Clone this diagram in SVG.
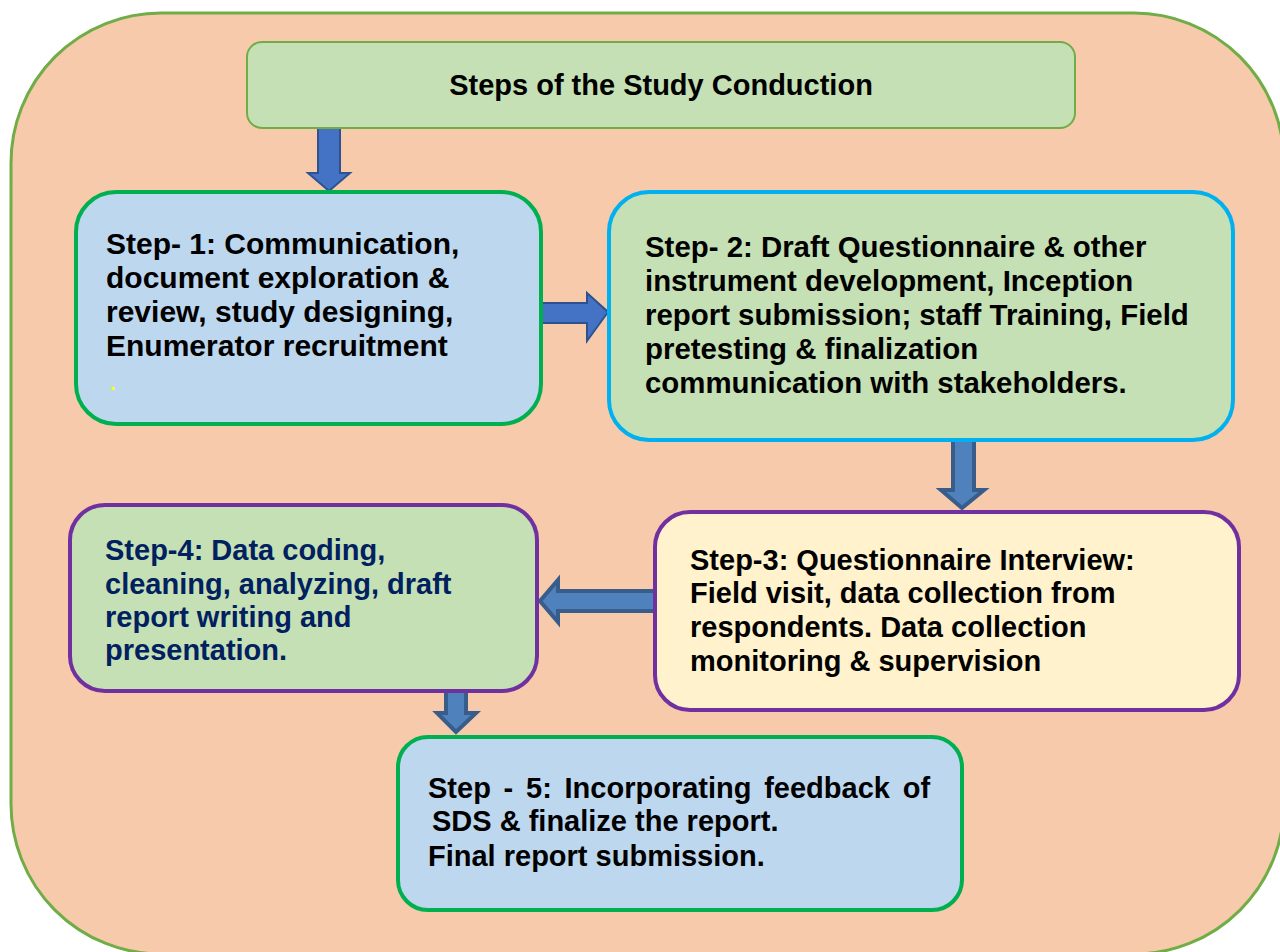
<svg xmlns="http://www.w3.org/2000/svg" width="1280" height="952" viewBox="0 0 1280 952">
  <style>
    .lbl { font-family: "Liberation Sans", Arial, sans-serif; font-weight: bold; font-size: 29px; fill: #000000; }
    .big { font-size: 30px; }
    .mid { font-size: 29.4px; }
    .navy { fill: #002060; }
    .box { stroke-width: 4; }
    .arrowA { fill: #4472C4; stroke: #2F528F; stroke-width: 2; }
    .arrowB { fill: #4F81BD; stroke: #385D8A; stroke-width: 4; }
  </style>

  <!-- background panel -->
  <g id="panel">
    <rect x="11" y="13" width="1273" height="941" rx="150" ry="150" fill="#F6CAAB" stroke="#70AD47" stroke-width="3"/>
  </g>

  <!-- connectors: block arrows -->
  <g id="connectors">
    <polygon class="arrowA" points="318,128 340,128 340,173 350,173 329,191 308,173 318,173"/>
    <polygon class="arrowA" points="541,303 587,303 587,293 608,312 587,341 587,323 541,323"/>
    <polygon class="arrowB" points="953,440 974,440 974,490 984,490 962,508 941,490 953,490"/>
    <polygon class="arrowB" points="655,591 558,591 558,580 540,601 558,622 558,611 655,611"/>
    <polygon class="arrowB" points="446,691 466,691 466,713 476,713 456,732 437,713 446,713"/>
  </g>

  <g id="title">
    <rect x="247" y="42" width="828" height="86" rx="15" ry="15" fill="#C5E0B4" stroke="#70AD47" stroke-width="2"/>
    <text class="lbl" x="661" y="95" text-anchor="middle">Steps of the Study Conduction</text>
  </g>

  <g id="step1">
    <rect class="box" x="76" y="192" width="465" height="232" rx="40" ry="40" fill="#BDD7EE" stroke="#00B050"/>
    <text class="lbl big" x="106" y="254">Step- 1: Communication,</text>
    <text class="lbl big" x="106" y="288">document exploration &amp;</text>
    <text class="lbl big" x="106" y="322">review, study designing,</text>
    <text class="lbl big" x="106" y="356">Enumerator recruitment</text>
    <text class="lbl" x="110" y="390" style="fill:#FFFF00;font-size:20px">.</text>
  </g>

  <g id="step2">
    <rect class="box" x="609" y="192" width="624" height="248" rx="40" ry="40" fill="#C5E0B4" stroke="#00B0F0"/>
    <text class="lbl mid" x="645" y="257">Step- 2: Draft Questionnaire &amp; other</text>
    <text class="lbl mid" x="645" y="291">instrument development, Inception</text>
    <text class="lbl mid" x="645" y="325">report submission; staff Training, Field</text>
    <text class="lbl mid" x="645" y="359">pretesting &amp; finalization</text>
    <text class="lbl mid" x="645" y="393">communication with stakeholders.</text>
  </g>

  <g id="step3">
    <rect class="box" x="655" y="512" width="584" height="198" rx="35" ry="35" fill="#FFF2CC" stroke="#7030A0"/>
    <text class="lbl" x="690" y="570">Step-3: Questionnaire Interview:</text>
    <text class="lbl" x="690" y="603">Field visit, data collection from</text>
    <text class="lbl" x="690" y="637">respondents. Data collection</text>
    <text class="lbl" x="690" y="671">monitoring &amp; supervision</text>
  </g>

  <g id="step4">
    <rect class="box" x="70" y="505" width="467" height="186" rx="35" ry="35" fill="#C5E0B4" stroke="#7030A0"/>
    <text class="lbl navy" x="105" y="560">Step-4: Data coding,</text>
    <text class="lbl navy" x="105" y="594">cleaning, analyzing, draft</text>
    <text class="lbl navy" x="105" y="627">report writing and</text>
    <text class="lbl navy" x="105" y="660">presentation.</text>
  </g>

  <g id="step5">
    <rect class="box" x="398" y="737" width="564" height="173" rx="30" ry="30" fill="#BDD7EE" stroke="#00B050"/>
    <text class="lbl" x="428" y="798" word-spacing="4.7">Step - 5: Incorporating feedback of</text>
    <text class="lbl" x="432" y="831">SDS &amp; finalize the report.</text>
    <text class="lbl" x="428" y="866">Final report submission.</text>
  </g>
</svg>
